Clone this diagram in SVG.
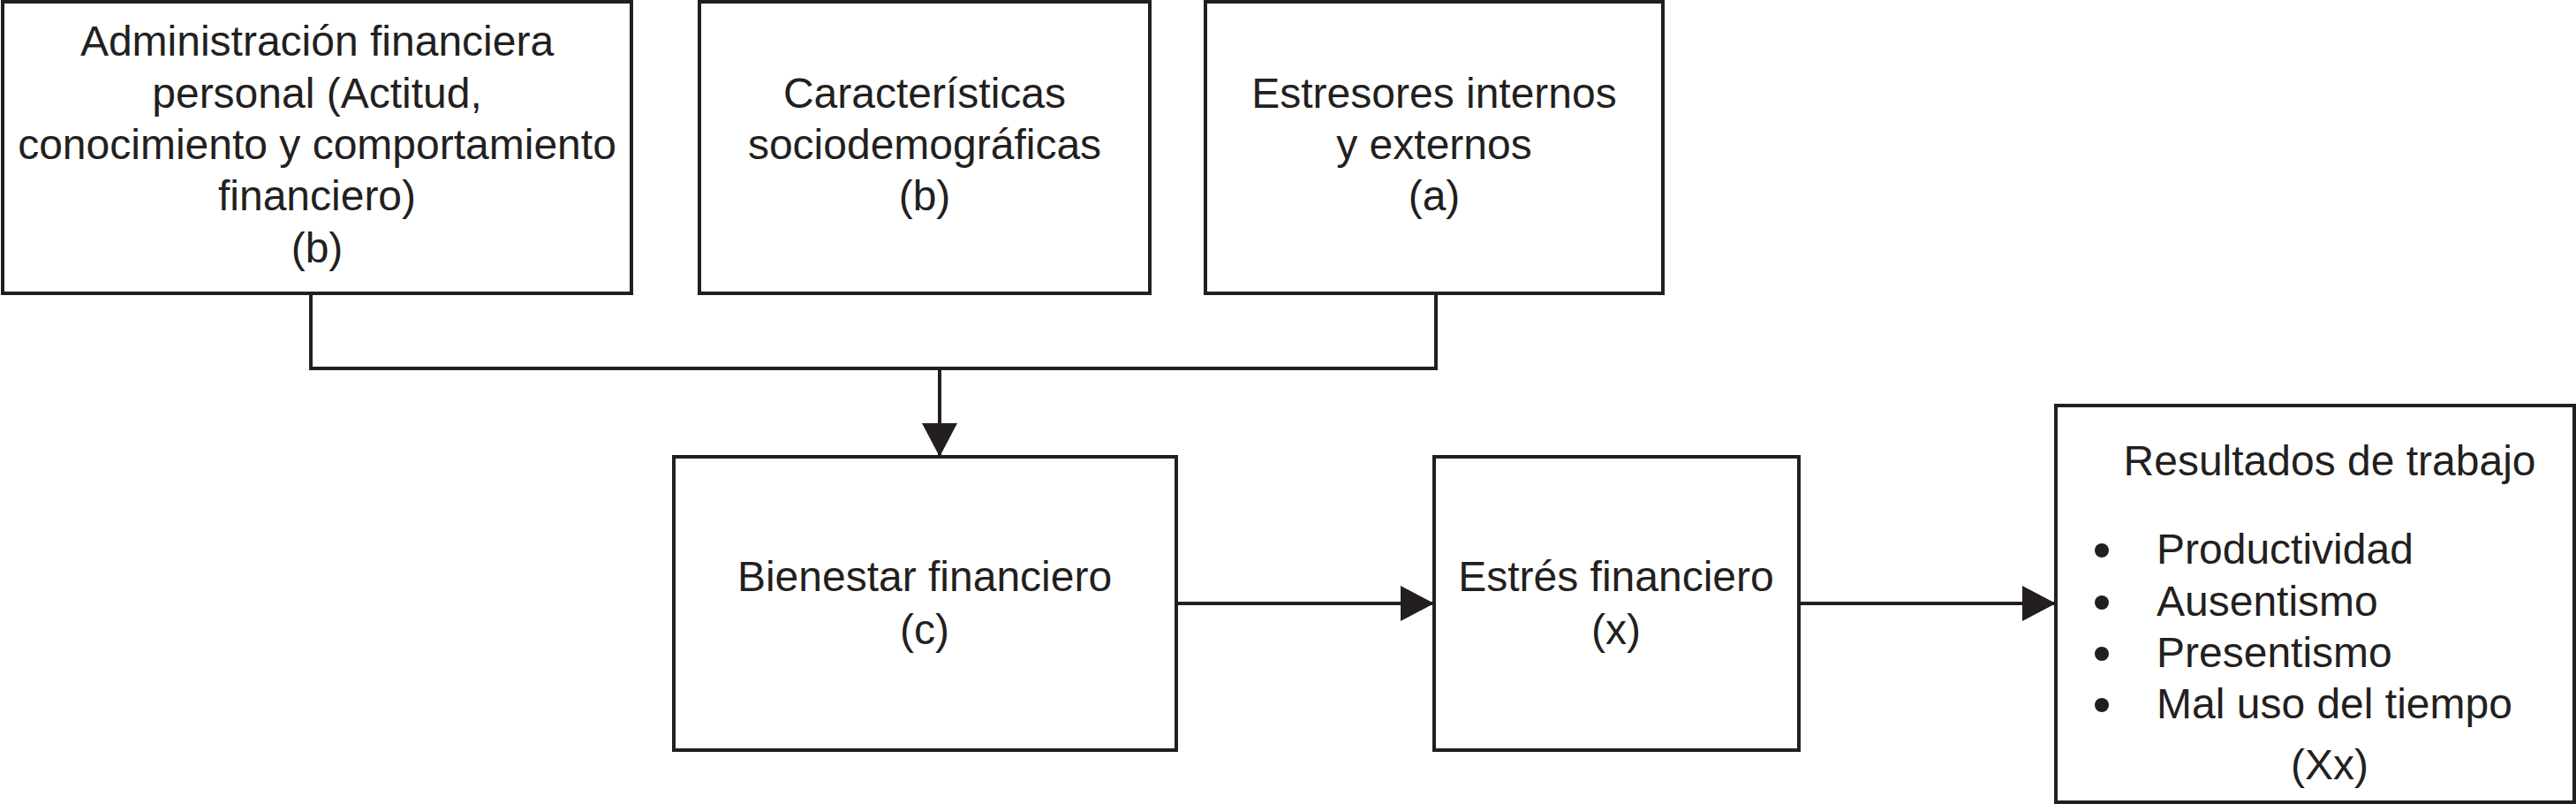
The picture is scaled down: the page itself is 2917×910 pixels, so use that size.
<svg xmlns="http://www.w3.org/2000/svg" width="2917" height="910" viewBox="0 0 2917 910">
  <style>
    .box { fill: #ffffff; stroke: #231f20; stroke-width: 4; }
    .t { font-family: "Liberation Sans", Arial, Helvetica, sans-serif; font-size: 48px; fill: #231f20; }
    .c { text-anchor: middle; }
    .conn { fill: none; stroke: #231f20; stroke-width: 4; }
    .bullet { fill: #231f20; }
  </style>
  <defs>
    <marker id="arrow" markerUnits="userSpaceOnUse" markerWidth="38" markerHeight="40" refX="38" refY="20" orient="auto">
      <path d="M0,0 L38,20 L0,40 Z" fill="#231f20"/>
    </marker>
  </defs>
  <rect width="2917" height="910" fill="#ffffff"/>

  <g id="node-administracion">
    <rect class="box" x="3" y="2" width="712" height="330"/>
    <text class="t c" x="359" y="63">Administración financiera</text>
    <text class="t c" x="359" y="122">personal (Actitud,</text>
    <text class="t c" x="359" y="180">conocimiento y comportamiento</text>
    <text class="t c" x="359" y="238">financiero)</text>
    <text class="t c" x="359" y="297">(b)</text>
  </g>

  <g id="node-caracteristicas">
    <rect class="box" x="792" y="2" width="510" height="330"/>
    <text class="t c" x="1047" y="122">Características</text>
    <text class="t c" x="1047" y="180">sociodemográficas</text>
    <text class="t c" x="1047" y="238">(b)</text>
  </g>

  <g id="node-estresores">
    <rect class="box" x="1365" y="2" width="518" height="330"/>
    <text class="t c" x="1624" y="122">Estresores internos</text>
    <text class="t c" x="1624" y="180">y externos</text>
    <text class="t c" x="1624" y="238">(a)</text>
  </g>

  <g id="node-bienestar">
    <rect class="box" x="763" y="517" width="569" height="332"/>
    <text class="t c" x="1047" y="669">Bienestar financiero</text>
    <text class="t c" x="1047" y="729">(c)</text>
  </g>

  <g id="node-estres">
    <rect class="box" x="1624" y="517" width="413" height="332"/>
    <text class="t c" x="1830" y="669">Estrés financiero</text>
    <text class="t c" x="1830" y="729">(x)</text>
  </g>

  <g id="node-resultados">
    <rect class="box" x="2328" y="459" width="587" height="449"/>
    <text class="t c" x="2638" y="538">Resultados de trabajo</text>
    <circle class="bullet" cx="2380" cy="623" r="8"/>
    <text class="t" x="2442" y="638">Productividad</text>
    <circle class="bullet" cx="2380" cy="682" r="8"/>
    <text class="t" x="2442" y="697">Ausentismo</text>
    <circle class="bullet" cx="2380" cy="740" r="8"/>
    <text class="t" x="2442" y="755">Presentismo</text>
    <circle class="bullet" cx="2380" cy="798" r="8"/>
    <text class="t" x="2442" y="813">Mal uso del tiempo</text>
    <text class="t c" x="2638" y="882">(Xx)</text>
  </g>

  <g id="connectors">
    <polyline class="conn" points="352,332 352,417 1626,417 1626,332"/>
    <line class="conn" x1="1064" y1="417" x2="1064" y2="517" marker-end="url(#arrow)"/>
    <line class="conn" x1="1332" y1="683" x2="1624" y2="683" marker-end="url(#arrow)"/>
    <line class="conn" x1="2037" y1="683" x2="2328" y2="683" marker-end="url(#arrow)"/>
  </g>
</svg>
